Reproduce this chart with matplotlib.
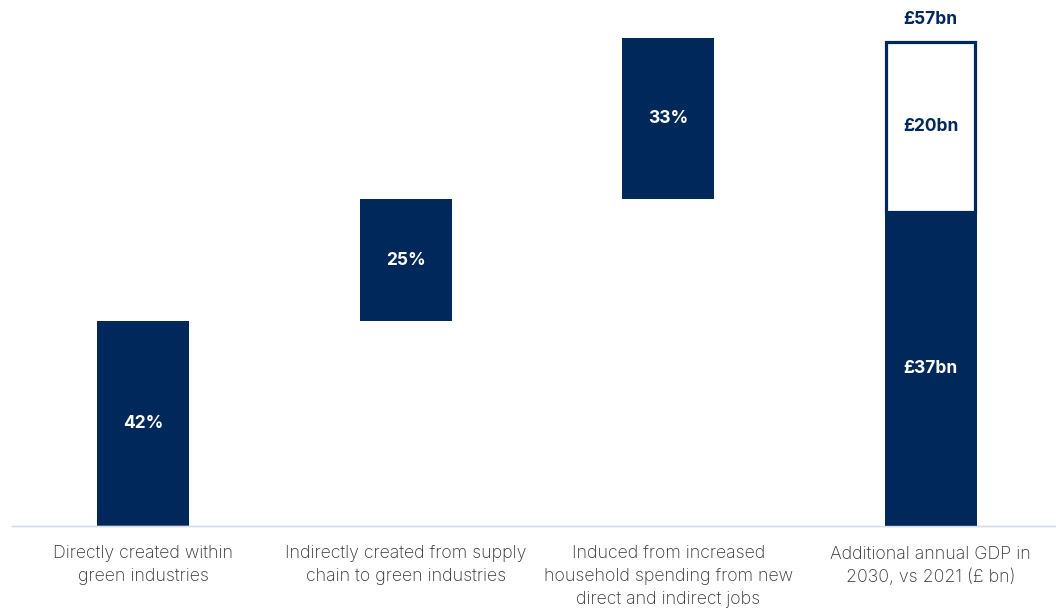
import matplotlib.pyplot as plt

# share of additional GDP by source (%), plus total in £bn
categories = [
    "Directly created within\ngreen industries",
    "Indirectly created from supply\nchain to green industries",
    "Induced from increased\nhousehold spending from new\ndirect and indirect jobs",
    "Additional annual GDP in\n2030, vs 2021 (£ bn)",
]
shares = [42, 25, 33]
share_labels = ["42%", "25%", "33%"]
gdp_parts = [37, 20]
gdp_labels = ["£37bn", "£20bn"]
gdp_total = 57

navy = "#00285a"
plt.rcParams["font.family"] = ["Inter", "DejaVu Sans"]

fig = plt.figure(figsize=(10.56, 6.10), dpi=100)
ax = fig.add_axes([11.7 / 1056, 84 / 610, 1050.3 / 1056, 506 / 610])
ax2 = ax.twinx()

width = 0.35

# waterfall steps for the percentage shares
bottom = 0
for i, (s, lab) in enumerate(zip(shares, share_labels)):
    ax.bar(i, s, bottom=bottom, width=width, color=navy)
    ax.text(i, bottom + s / 2, lab, ha="center", va="center",
            color="white", fontsize=12.5, fontweight="bold")
    bottom += s

# total GDP bar on its own £bn scale
x = len(shares)
ax2.bar(x, gdp_parts[0], width=width, color=navy)
ax2.bar(x, gdp_parts[1], bottom=gdp_parts[0], width=width - 0.01,
        facecolor="white", edgecolor=navy, linewidth=2.3)
ax2.text(x, gdp_parts[0] / 2, gdp_labels[0], ha="center", va="center",
         color="white", fontsize=12.5, fontweight="bold")
ax2.text(x, gdp_parts[0] + gdp_parts[1] / 2, gdp_labels[1], ha="center",
         va="center", color=navy, fontsize=12.5, fontweight="bold")
ax2.text(x, gdp_total + 1.6, f"£{gdp_total}bn", ha="center", va="bottom",
         color=navy, fontsize=12.5, fontweight="bold")

ax.set_xlim(-0.5, 3.5)
ax.set_ylim(0, 506 / 4.88)
ax2.set_ylim(0, 506 / (484 / 57))

ax.set_xticks(range(len(categories)))
ax.set_xticklabels(categories, fontsize=12.8, color="#333333",
                   fontweight="light", linespacing=1.45)
ax.tick_params(axis="x", length=0, pad=14)
ax.set_yticks([])
ax2.set_yticks([])

for a in (ax, ax2):
    for side in ("top", "right", "left"):
        a.spines[side].set_visible(False)
    a.spines["bottom"].set_color("#d3dde8")
    a.spines["bottom"].set_linewidth(1)

fig.savefig("out.png", dpi=100)
